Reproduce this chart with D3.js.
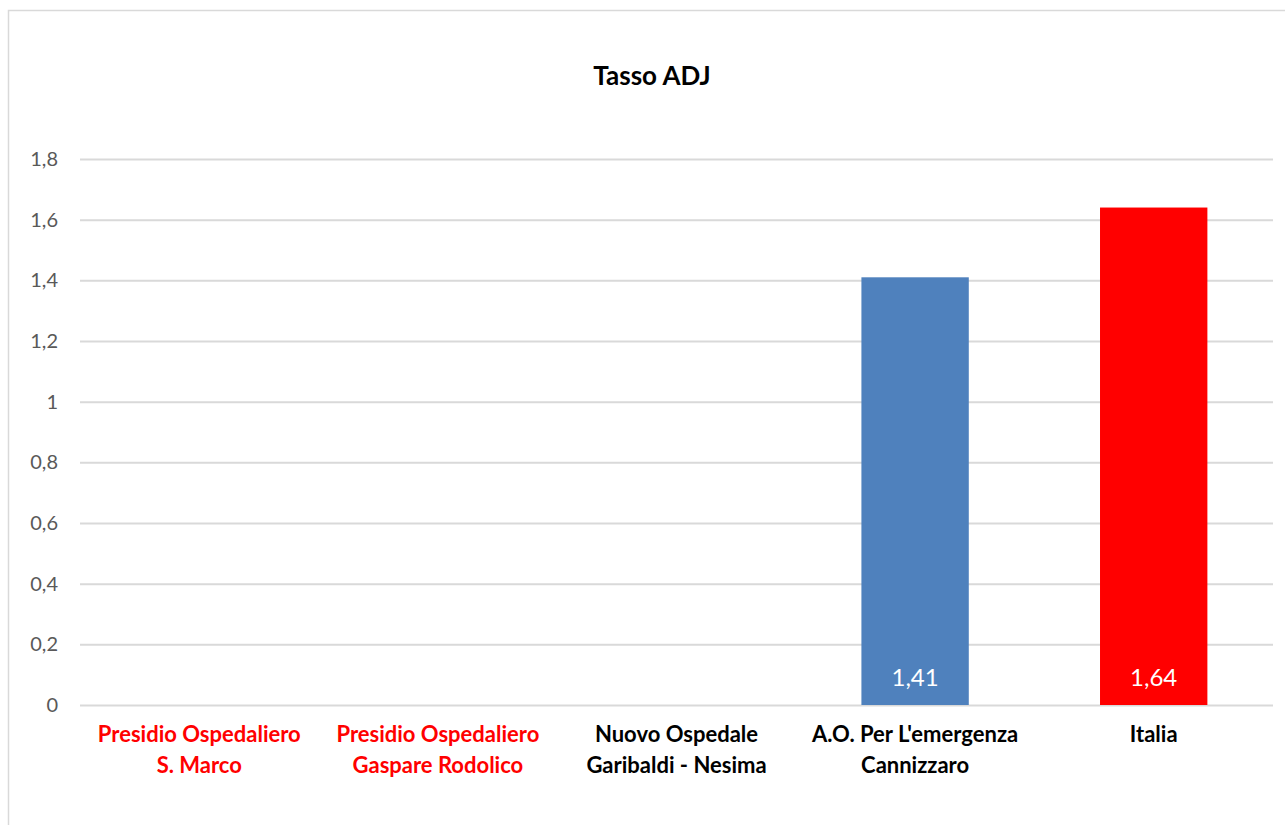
<!DOCTYPE html>
<html><head><meta charset="utf-8">
<script src="https://cdn.jsdelivr.net/npm/d3@7"></script>
<style>body{margin:0;background:#fff;} text{font-family:Lato,"Open Sans",sans-serif;}</style>
</head><body>
<svg id="c" width="1285" height="825"></svg>
<script>
const categories = [["Presidio Ospedaliero","S. Marco"],["Presidio Ospedaliero","Gaspare Rodolico"],["Nuovo Ospedale","Garibaldi - Nesima"],["A.O. Per L'emergenza","Cannizzaro"],["Italia"]];
const values = [null, null, null, 1.41, 1.64];
const barColors = ["#4F81BD","#4F81BD","#4F81BD","#4F81BD","#FF0000"];
const labelColors = ["#FF0000","#FF0000","#000000","#000000","#000000"];
const yTicks = [0,0.2,0.4,0.6,0.8,1,1.2,1.4,1.6,1.8];
const title = "Tasso ADJ";

(function(){
const svg = d3.select("#c");
svg.append("rect").attr("x",8.5).attr("y",10.5).attr("width",1290).attr("height",830)
  .attr("fill","#fff").attr("stroke","#d9d9d9").attr("stroke-width",1.5);

const pl=80, pr=1273, pt=159, pb=705;
const fmt = d => d3.format("")(d).replace(".",",");
const x = d3.scaleBand().domain(d3.range(categories.length)).range([pl,pr]).paddingInner(0.55).paddingOuter(0.275);
const y = d3.scaleLinear().domain([0,1.8]).range([pb,pt]);

svg.append("text").attr("x",652).attr("y",85).attr("text-anchor","middle")
  .attr("font-size",26).attr("font-weight","bold").attr("fill","#000").text(title);

const yAxis = d3.axisLeft(y).tickValues(yTicks).tickSize(-(pr-pl)).tickPadding(22).tickFormat(fmt);
const g = svg.append("g").attr("transform",`translate(${pl},0)`).call(yAxis);
g.select(".domain").remove();
g.selectAll(".tick line").attr("stroke","#d9d9d9").attr("stroke-width",2);
g.selectAll(".tick text").attr("fill","#595959").attr("font-size",20).attr("font-family","Lato, sans-serif");

const data = categories.map((c,i)=>({i,c,v:values[i]}));
svg.selectAll(".bar").data(data.filter(d=>d.v!=null)).join("rect")
  .attr("x",d=>x(d.i)).attr("width",x.bandwidth())
  .attr("y",d=>y(d.v)).attr("height",d=>y(0)-y(d.v)).attr("fill",d=>barColors[d.i]);

svg.selectAll(".vl").data(data.filter(d=>d.v!=null)).join("text")
  .attr("x",d=>x(d.i)+x.bandwidth()/2).attr("y",y(0)-19).attr("text-anchor","middle")
  .attr("font-size",24).attr("fill","#fff").text(d=>fmt(d.v));

const xl = svg.append("g");
data.forEach(d=>{
  const t = xl.append("text").attr("text-anchor","middle").attr("font-weight","bold")
    .attr("font-size",22).attr("fill",labelColors[d.i]);
  d.c.forEach((line,k)=>{
    t.append("tspan").attr("x",x(d.i)+x.bandwidth()/2).attr("y",742+k*31).text(line);
  });
});
})();
</script>
</body></html>
